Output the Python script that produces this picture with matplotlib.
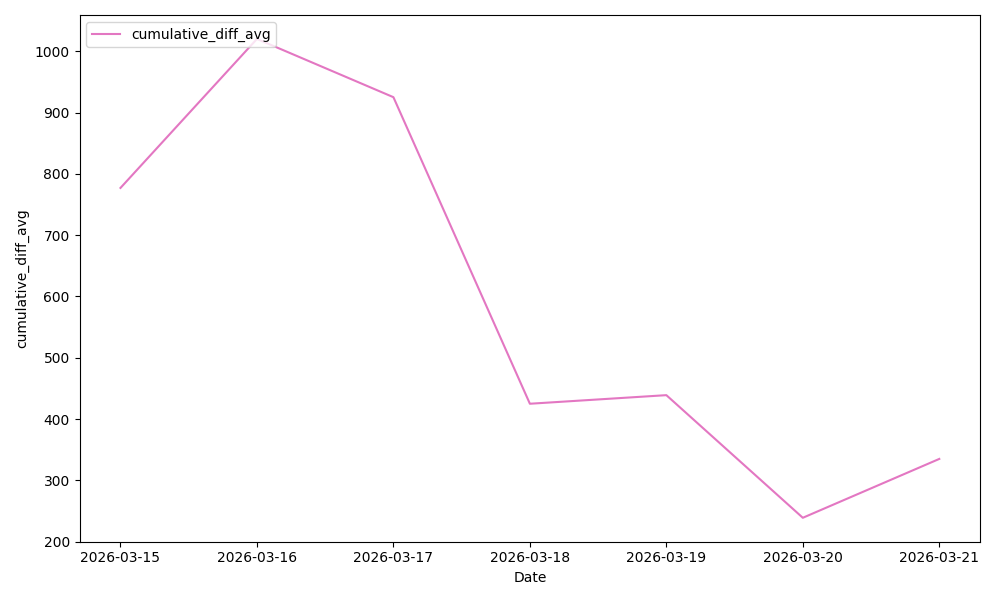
import pandas as pd
import matplotlib.pyplot as plt

dates = ["2026-03-15", "2026-03-16", "2026-03-17", "2026-03-18",
         "2026-03-19", "2026-03-20", "2026-03-21"]
cumulative_diff_avg = [777, 1020, 925, 425, 439, 239, 335]

x = pd.to_datetime(dates)

fig, ax = plt.subplots(figsize=(10, 6), dpi=100)
ax.plot(x, cumulative_diff_avg, color="#e377c2", label="cumulative_diff_avg")
ax.set_xlabel("Date")
ax.set_ylabel("cumulative_diff_avg")
ax.set_xticks(x)
ax.set_xticklabels(dates)
ax.legend(loc="upper left")
fig.tight_layout()
fig.savefig("out.png")
